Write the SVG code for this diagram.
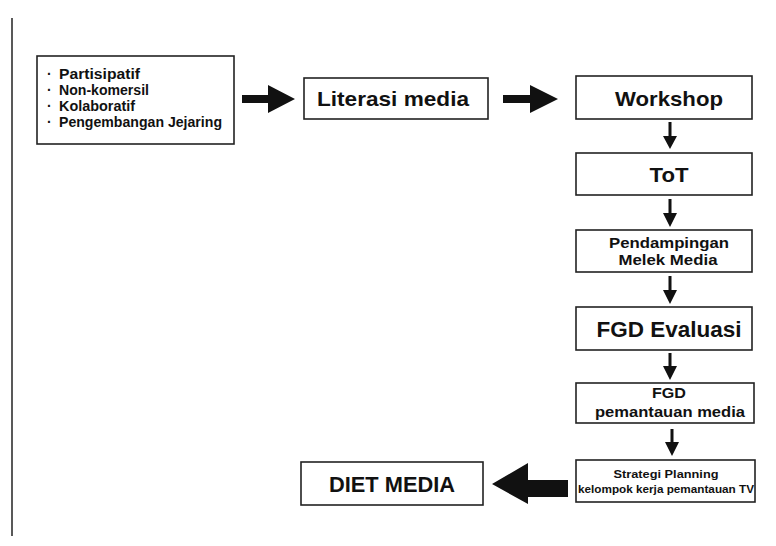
<svg xmlns="http://www.w3.org/2000/svg" width="776" height="546" viewBox="0 0 776 546">
<style>
.box{fill:#fff;stroke:#222;stroke-width:1.6}
.t{font-family:"Liberation Sans",Arial,sans-serif;font-weight:bold;fill:#111;text-anchor:middle}
.l{font-family:"Liberation Sans",Arial,sans-serif;font-weight:bold;fill:#111;font-size:14px}
.arr{fill:#111}
</style>
<rect width="776" height="546" fill="#fff"/>
<line x1="12" y1="18" x2="12" y2="536" stroke="#222" stroke-width="1.5"/>
<g id="n-prinsip">
<rect class="box" x="37" y="56" width="197" height="88"/>
<text class="l" x="47" y="79">·</text><text class="l" x="59" y="79" textLength="81" lengthAdjust="spacingAndGlyphs">Partisipatif</text>
<text class="l" x="47" y="95">·</text><text class="l" x="59" y="95" textLength="90" lengthAdjust="spacingAndGlyphs">Non-komersil</text>
<text class="l" x="47" y="111">·</text><text class="l" x="59" y="111" textLength="76" lengthAdjust="spacingAndGlyphs">Kolaboratif</text>
<text class="l" x="47" y="127">·</text><text class="l" x="59" y="127" textLength="163" lengthAdjust="spacingAndGlyphs">Pengembangan Jejaring</text>
</g>
<g id="n-literasi">
<rect class="box" x="304" y="78" width="184" height="41"/>
<text class="t" x="393" y="106" font-size="21" textLength="152" lengthAdjust="spacingAndGlyphs">Literasi media</text>
</g>
<g id="n-workshop">
<rect class="box" x="576" y="76" width="176" height="43"/>
<text class="t" x="669" y="106" font-size="21" textLength="108" lengthAdjust="spacingAndGlyphs">Workshop</text>
</g>
<g id="n-tot">
<rect class="box" x="576" y="153" width="176" height="42"/>
<text class="t" x="669" y="182" font-size="21" textLength="39" lengthAdjust="spacingAndGlyphs">ToT</text>
</g>
<g id="n-pendampingan">
<rect class="box" x="576" y="230" width="176" height="42"/>
<text class="t" x="669" y="248" font-size="15" textLength="120" lengthAdjust="spacingAndGlyphs">Pendampingan</text>
<text class="t" x="668" y="265" font-size="15" textLength="99" lengthAdjust="spacingAndGlyphs">Melek Media</text>
</g>
<g id="n-fgd-evaluasi">
<rect class="box" x="576" y="307" width="176" height="43"/>
<text class="t" x="669" y="337" font-size="22" textLength="145" lengthAdjust="spacingAndGlyphs">FGD Evaluasi</text>
</g>
<g id="n-fgd-pemantauan">
<rect class="box" x="576" y="383" width="178" height="40"/>
<text class="t" x="669" y="398" font-size="14.5" textLength="34" lengthAdjust="spacingAndGlyphs">FGD</text>
<text class="t" x="670" y="417" font-size="15" textLength="150" lengthAdjust="spacingAndGlyphs">pemantauan media</text>
</g>
<g id="n-strategi">
<rect class="box" x="576" y="460" width="179" height="42"/>
<text class="t" x="666" y="478" font-size="11" textLength="105" lengthAdjust="spacingAndGlyphs">Strategi Planning</text>
<text class="t" x="666" y="493" font-size="11" textLength="176" lengthAdjust="spacingAndGlyphs">kelompok kerja pemantauan TV</text>
</g>
<g id="n-diet">
<rect class="box" x="301" y="462" width="182" height="43"/>
<text class="t" x="392" y="492" font-size="22" textLength="126" lengthAdjust="spacingAndGlyphs">DIET MEDIA</text>
</g>
<g id="connectors">
<polygon class="arr" points="242,95 268,95 268,85 295,99 268,113 268,103 242,103"/>
<polygon class="arr" points="503,95 530,95 530,85 558,99 530,113 530,103 503,103"/>
<polygon class="arr" points="668.5,122 671.5,122 671.5,136 677,136 670,149 663,136 668.5,136"/>
<polygon class="arr" points="668.5,199 671.5,199 671.5,213 677,213 670,227 663,213 668.5,213"/>
<polygon class="arr" points="668.5,276 671.5,276 671.5,290 677,290 670,304 663,290 668.5,290"/>
<polygon class="arr" points="668.5,353 671.5,353 671.5,366 677,366 670,380 663,366 668.5,366"/>
<polygon class="arr" points="670.5,429 673.5,429 673.5,442 679,442 672,456 665,442 670.5,442"/>
<polygon class="arr" points="568,480 528,480 528,463 492,484 528,504 528,497 568,497"/>
</g>
</svg>
